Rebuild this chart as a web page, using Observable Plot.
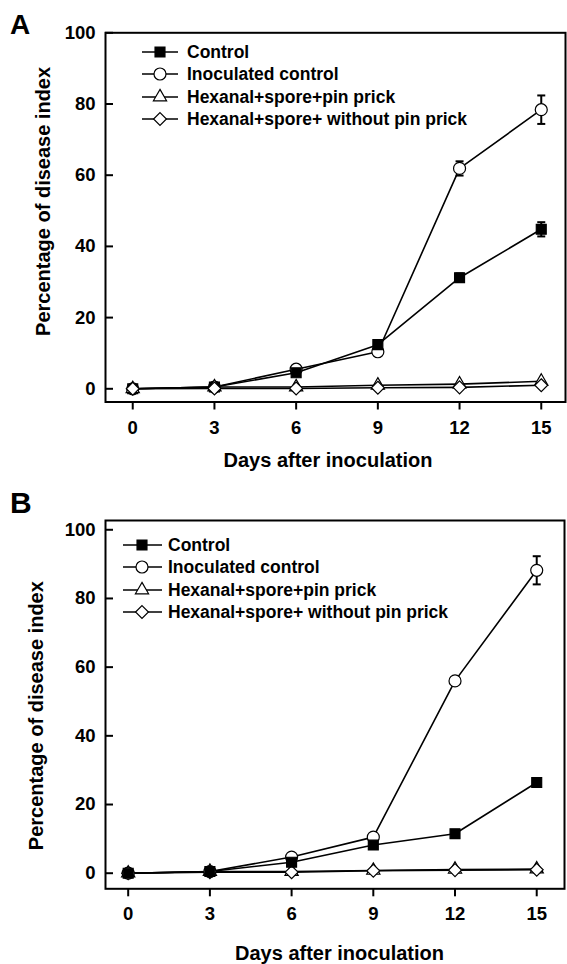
<!DOCTYPE html>
<html>
<head>
<meta charset="utf-8">
<script src="https://cdn.jsdelivr.net/npm/d3@7"></script>
<script src="https://cdn.jsdelivr.net/npm/@observablehq/plot@0.6"></script>
<style>
  html, body { margin: 0; padding: 0; background: #fff; }
  #wrap { position: relative; width: 567px; height: 964px; background: #fff; overflow: hidden;
          font-family: "Liberation Sans", Arial, sans-serif; }
  .panel { position: absolute; left: 0; width: 567px; }
  .letter { position: absolute; font-weight: bold; line-height: 1; color: #000; }
  .legend { position: absolute; left: 0; top: 0; }
</style>
</head>
<body>
<div id="wrap">
  <div id="A" class="panel" style="top:0px;height:480px"></div>
  <div id="B" class="panel" style="top:480px;height:484px"></div>
</div>
<script>
// ---------- data ----------
const days = [0, 3, 6, 9, 12, 15];
const yTicks = [0, 20, 40, 60, 80, 100];
const seriesNames = ["Control", "Inoculated control", "Hexanal+spore+pin prick", "Hexanal+spore+ without pin prick"];
const xLabel = "Days after inoculation";
const yLabel = "Percentage of disease index";
const panelLetters = ["A", "B"];

// Panel A
const aControl    = [0, 0.5, 4.5, 12.4, 31.2, 44.8];
const aControlErr = [0, 0, 0, 0.6, 1.2, 2.0];
const aInoc       = [0, 0.5, 5.5, 10.4, 61.9, 78.4];
const aInocErr    = [0, 0, 0, 0.6, 2.0, 4.0];
const aPin        = [0, 0.5, 0.5, 1.0, 1.3, 2.1];
const aNoPin      = [0, 0.1, 0.1, 0.3, 0.4, 1.0];

// Panel B
const bControl    = [0, 0.5, 3.2, 8.2, 11.5, 26.4];
const bControlErr = [0, 0, 0, 0.5, 0.8, 1.2];
const bInoc       = [0, 0.5, 4.7, 10.5, 56.0, 88.2];
const bInocErr    = [0, 0, 0, 0.5, 0.6, 4.1];
const bPin        = [0, 0.5, 0.5, 0.8, 1.1, 1.2];
const bNoPin      = [0, 0.3, 0.3, 0.7, 0.9, 1.0];

// ---------- styles ----------
const symbolStyle = {
  "Control": {symbol: "square", fill: "black", r: 5.6},
  "Inoculated control": {symbol: "circle", fill: "white", r: 6},
  "Hexanal+spore+pin prick": {symbol: "triangle", fill: "white", r: 4.9},
  "Hexanal+spore+ without pin prick": {symbol: "diamond2", fill: "white", r: 5.8}
};
const capSymbol = {draw(ctx, size) { const w = Math.sqrt(size / Math.PI); ctx.moveTo(-w, 0); ctx.lineTo(w, 0); }};
const FONT = "'Liberation Sans', Arial, sans-serif";

function makePanel(el, cfg) {
  const series = cfg.series.map(s => ({
    name: s.name,
    rows: s.values.map((v, i) => ({day: days[i], v, e: s.err ? s.err[i] : 0}))
  }));
  const byName = Object.fromEntries(series.map(s => [s.name, s]));
  const order = cfg.order.map(n => byName[n]);

  const marks = [];
  for (const s of order) {
    marks.push(Plot.line(s.rows, {x: "day", y: "v", stroke: "black", strokeWidth: 1.6}));
  }
  for (const s of order) {
    const st = symbolStyle[s.name];
    const errRows = s.rows.filter(r => r.e > 0);
    marks.push(Plot.link(errRows, {x1: "day", x2: "day", y1: r => r.v - r.e, y2: r => r.v + r.e, stroke: "black", strokeWidth: 2}));
    marks.push(Plot.dot(errRows, {x: "day", y: r => r.v - r.e, symbol: capSymbol, r: 4, stroke: "black", strokeWidth: 2}));
    marks.push(Plot.dot(errRows, {x: "day", y: r => r.v + r.e, symbol: capSymbol, r: 4, stroke: "black", strokeWidth: 2}));
    marks.push(Plot.dot(s.rows, {x: "day", y: "v", symbol: st.symbol, r: st.r, fill: st.fill, stroke: "black", strokeWidth: 1.2}));
  }
  marks.push(Plot.frame({stroke: "black", strokeWidth: 2}));
  marks.push(Plot.axisX({ticks: days, tickFormat: d => String(d), tickSize: 8, tickPadding: cfg.xTickPad,
    fontSize: 18.5, fontWeight: "bold", strokeWidth: 2, label: null}));
  marks.push(Plot.axisY({ticks: yTicks, tickFormat: d => String(d), tickSize: -8, tickPadding: 18,
    fontSize: 18.5, fontWeight: "bold", strokeWidth: 2, label: null}));
  marks.push(Plot.text([yLabel], {frameAnchor: "left", rotate: -90, dx: cfg.yLabelDx, dy: cfg.yLabelDy,
    text: d => d, fontSize: 20, fontWeight: "bold", lineAnchor: "middle", textAnchor: "middle"}));
  marks.push(Plot.text([xLabel], {frameAnchor: "bottom", dx: cfg.xLabelDx, dy: cfg.xLabelDy,
    text: d => d, fontSize: 20, fontWeight: "bold", lineAnchor: "middle", textAnchor: "middle"}));

  const chart = Plot.plot({
    width: 567,
    height: cfg.height,
    marginTop: cfg.mt, marginLeft: cfg.ml, marginRight: cfg.mr, marginBottom: cfg.mb,
    x: {domain: cfg.xDomain},
    y: {domain: cfg.yDomain},
    style: {fontFamily: FONT, color: "black", background: "white", overflow: "visible"},
    marks
  });
  el.appendChild(chart);

  // panel letter
  const letter = document.createElement("div");
  letter.className = "letter";
  letter.textContent = cfg.letter;
  letter.style.left = cfg.letterPos[0] + "px";
  letter.style.top = cfg.letterPos[1] + "px";
  letter.style.fontSize = cfg.letterSize + "px";
  el.appendChild(letter);

  // legend (overlay)
  const lg = d3.create("svg").attr("class", "legend").attr("width", 567).attr("height", cfg.height)
    .style("font-family", FONT);
  seriesNames.forEach((name, i) => {
    const st = symbolStyle[name];
    const y = cfg.legend.rows[i];
    const g = lg.append("g");
    g.append("line").attr("x1", cfg.legend.x1).attr("x2", cfg.legend.x2).attr("y1", y).attr("y2", y)
      .attr("stroke", "black").attr("stroke-width", 1.6);
    const sym = {square: d3.symbolSquare, circle: d3.symbolCircle, triangle: d3.symbolTriangle, diamond2: d3.symbolDiamond2}[st.symbol];
    g.append("path").attr("d", d3.symbol(sym, st.r * st.r * Math.PI)())
      .attr("transform", `translate(${cfg.legend.xm},${y})`)
      .attr("fill", st.fill).attr("stroke", "black").attr("stroke-width", 1.2);
    g.append("text").attr("x", cfg.legend.xt).attr("y", y).attr("dy", "0.36em")
      .attr("font-size", 17.5).attr("font-weight", "bold").text(name);
  });
  el.appendChild(lg.node());
}

makePanel(document.getElementById("A"), {
  letter: panelLetters[0], letterPos: [10, 11], letterSize: 28,
  height: 480, mt: 32.3, ml: 105, mr: 2, mb: 78.5,
  xDomain: [-1.0, 15.89], yDomain: [-3.71, 100],
  xTickPad: 11, yLabelDx: -62, yLabelDy: -16, xLabelDx: -7.5, xLabelDy: 58.5,
  series: [
    {name: seriesNames[0], values: aControl, err: aControlErr},
    {name: seriesNames[1], values: aInoc, err: aInocErr},
    {name: seriesNames[2], values: aPin},
    {name: seriesNames[3], values: aNoPin}
  ],
  order: [seriesNames[1], seriesNames[0], seriesNames[2], seriesNames[3]],
  legend: {x1: 142, x2: 178, xm: 160, xt: 187, rows: [52, 74, 97, 119]}
});

makePanel(document.getElementById("B"), {
  letter: panelLetters[1], letterPos: [10, 8], letterSize: 30,
  height: 484, mt: 40, ml: 105, mr: 3, mb: 75.7,
  xDomain: [-0.833, 16.02], yDomain: [-4.54, 102.7],
  xTickPad: 10, yLabelDx: -69, yLabelDy: 11, xLabelDx: 4.5, xLabelDy: 64.7,
  series: [
    {name: seriesNames[0], values: bControl, err: bControlErr},
    {name: seriesNames[1], values: bInoc, err: bInocErr},
    {name: seriesNames[2], values: bPin},
    {name: seriesNames[3], values: bNoPin}
  ],
  order: [seriesNames[2], seriesNames[3], seriesNames[1], seriesNames[0]],
  legend: {x1: 123, x2: 162, xm: 142, xt: 168, rows: [65, 87, 110, 132]}
});
</script>
</body>
</html>
